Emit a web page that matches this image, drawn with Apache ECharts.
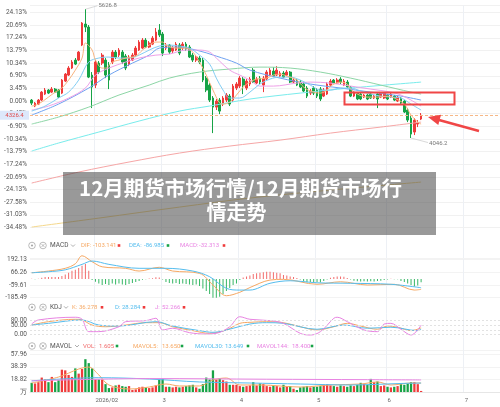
<!DOCTYPE html>
<html>
<head>
<meta charset="utf-8">
<script src="https://cdn.jsdelivr.net/npm/echarts@6/dist/echarts.min.js"></script>
<style>
html, body { margin: 0; padding: 0; background: #fff; }
#main { width: 500px; height: 407px; }
</style>
</head>
<body>
<div id="main"></div>
<script>
// 基准价 (0.00%)
var basePrice = 4500;
var totalBars = 140;
var monthLabels = { 19: '2026/02', 39: '3', 62: '4', 85: '5', 106: '6', 129: '7' };

// 日K [open, close, low, high]
var candles = [
	[4512,4475,4451,4525],[4439,4475,4426,4488],[4463,4512,4451,4525],[4512,4610,4500,4623],[4586,4635,4574,4660],
	[4635,4598,4586,4647],[4610,4647,4598,4672],[4647,4610,4598,4660],[4635,4549,4537,4647],[4598,4758,4586,4770],
	[4745,4831,4733,4844],[4819,4905,4807,4929],[4905,4979,4893,5003],[5003,4954,4942,5028],[5003,5101,4991,5114],
	[5187,5457,5175,5469],[5445,5408,5347,5626.8],[5408,4794,4782,5433],[4819,4672,4414,4856],[4696,4979,4660,5003],
	[4966,4856,4831,4991],[4966,5064,4942,5089],[5003,4819,4782,5028],[4942,4758,4647,4979],[4979,5101,4954,5126],
	[5101,5040,5015,5126],[5064,5126,5040,5150],[5101,4979,4954,5126],[5052,4905,4880,5077],[4954,5040,4929,5064],
	[5003,5064,4991,5089],[5064,5150,5040,5175],[5126,5224,5114,5248],[5150,5248,5138,5273],[5248,5163,5150,5273],
	[5163,5212,5150,5236],[5199,5273,5187,5298],[5248,5347,5236,5396],[5371,5310,5285,5445],[5322,5089,5052,5347],
	[5150,5187,5126,5212],[5187,5101,5077,5199],[5114,5150,5089,5175],[5126,5199,5114,5224],[5187,5089,5064,5212],
	[5150,5199,5126,5224],[5199,5138,5114,5224],[5163,5040,5028,5187],[5064,5003,4979,5089],[5003,5040,4979,5064],
	[5028,4979,4954,5052],[5003,4758,4733,5028],[4782,4635,4610,4807],[4696,4512,4488,4721],[4537,4426,4107,4561],
	[4426,4500,4390,4525],[4512,4377,4340,4537],[4463,4537,4439,4561],[4512,4574,4488,4598],[4561,4463,4439,4586],
	[4512,4684,4488,4709],[4660,4709,4635,4733],[4684,4782,4660,4807],[4770,4696,4586,4794],[4660,4745,4635,4770],
	[4709,4770,4684,4794],[4880,4733,4721,4905],[4721,4770,4709,4794],[4782,4733,4709,4807],[4696,4782,4610,4807],
	[4770,4856,4758,4880],[4819,4880,4807,4905],[4868,4807,4794,4917],[4819,4880,4807,4929],[4807,4844,4794,4868],
	[4844,4794,4782,4868],[4819,4856,4807,4880],[4856,4733,4721,4868],[4733,4758,4721,4782],[4758,4696,4684,4770],
	[4733,4672,4660,4758],[4709,4623,4610,4733],[4660,4561,4537,4684],[4598,4623,4574,4647],[4660,4598,4574,4684],
	[4635,4561,4537,4660],[4647,4525,4500,4672],[4561,4635,4549,4660],[4586,4709,4574,4733],[4696,4745,4672,4770],
	[4758,4721,4709,4770],[4721,4758,4709,4782],[4770,4733,4709,4794],[4696,4745,4684,4770],[4733,4672,4660,4758],
	[4672,4561,4549,4684],[4561,4610,4549,4623],[4598,4525,4512,4610],[4586,4525,4512,4598],[4549,4574,4537,4586],
	[4574,4525,4512,4586],[4586,4537,4525,4598],[4537,4561,4525,4574],[4586,4525,4414,4598],[4549,4598,4537,4610],
	[4537,4598,4525,4610],[4574,4525,4512,4586],[4549,4586,4537,4598],[4561,4512,4500,4574],[4500,4549,4488,4561],
	[4537,4475,4463,4549],[4500,4365,4353,4512],[4390,4267,4242,4414],[4291,4095,4046.2,4316],[4120,4267,4083,4291],
	[4218,4230,4181,4267],[4279,4326.4,4267,4353]
];

// 成交量 (万)
var volumes = [
	14,13,15,22,19,15,23,15,18,34, 33,26,23,36,28,35,50,44,36,19,
	19,19,12,6,7,10,11,9,8,9, 3,4,7,8,7,6,7,10,19,20,
	8,8,7,8,7,8,9,10,11,7, 5,12,22,19,33,19,21,18,16,11,
	11,11,9,8,9,10,15,10,13,12, 9,8,10,9,7,11,8,9,5,3,
	7,8,9,7,8,8,9,11,12,10, 9,8,10,9,8,10,9,11,14,12,
	11,20,15,16,9,10,8,7,8,9, 12,11,13,15,15,12,1.605
];

// MACD 柱
var macdHist = [
	3,-3,3,12,18,20,20,18,20,30, 45,60,80,90,107,130,147,80,-10,-27,
	-45,-60,-50,-60,-45,-55,-45,-55,-60,-50, -40,-30,-20,-8,-4,4,6,17,15,-5,
	-30,-40,-45,-40,-50,-45,-50,-55,-60,-55, -70,-95,-120,-150,-185,-190,-175,-150,-120,-90,
	-60,-45,-10,15,25,35,50,55,60,65, 70,70,65,60,55,40,35,25,20,10,
	-5,-25,-33,-30,-33,-30,-33,-20,-5,12, 20,25,25,22,10,-5,-18,-22,-25,-22,
	-25,-22,-25,-20,-18,-10,-5,3,-3,-4, -20,-30,-45,-60,-75,-65,-32.313
];

// 均线 [index, price]
var ma5 = [[0,4439],[2,4463],[5,4549],[7,4610],[9,4660],[11,4758],[13,4880],[15,5028],[16,5212],[18,5126],[19,5003],
	[21,4905],[22,4905],[24,4979],[26,5003],[28,5028],[31,5052],[33,5126],[35,5187],[37,5224],[39,5224],[40,5187],
	[43,5150],[46,5150],[48,5101],[50,4979],[52,4819],[54,4635],[56,4475],[57,4463],[59,4488],[61,4574],[63,4672],
	[65,4733],[67,4770],[70,4782],[72,4819],[74,4831],[76,4807],[79,4758],[81,4672],[83,4623],[86,4598],[88,4635],
	[89,4684],[92,4733],[94,4709],[95,4647],[97,4586],[100,4549],[103,4549],[106,4561],[108,4537],[111,4463],
	[113,4328],[115,4242],[116,4218]];
var ma10 = [[0,4377],[4,4439],[8,4537],[11,4610],[14,4758],[17,4979],[20,5028],[23,5040],[26,5028],[29,5028],
	[32,5064],[35,5126],[38,5175],[41,5187],[44,5175],[47,5150],[50,5064],[53,4954],[55,4782],[57,4635],[59,4537],
	[62,4537],[65,4610],[68,4709],[71,4770],[74,4794],[77,4794],[80,4758],[83,4696],[86,4635],[89,4635],[92,4660],
	[95,4660],[98,4623],[101,4586],[104,4561],[107,4549],[110,4537],[113,4463],[116,4390]];
var ma20 = [[0,4390],[5,4439],[11,4537],[16,4660],[19,4819],[23,4905],[28,4979],[32,5028],[37,5064],[41,5077],
	[46,5126],[50,5126],[53,5101],[55,5028],[59,4880],[62,4819],[65,4758],[68,4684],[72,4684],[79,4721],[83,4733],
	[89,4721],[95,4684],[101,4647],[107,4610],[110,4574],[113,4512],[116,4439]];
var ma30 = [[0,4328],[8,4463],[17,4660],[23,4819],[30,4966],[35,5064],[38,5150],[43,5163],[49,5126],[55,5052],
	[61,4966],[65,4880],[74,4782],[83,4709],[92,4660],[101,4610],[110,4561],[116,4512]];
var ma60 = [[0,4218],[8,4304],[17,4426],[26,4574],[35,4696],[41,4782],[50,4856],[59,4893],[68,4917],[77,4905],
	[86,4856],[95,4782],[104,4696],[113,4610],[116,4586]];
var ma120 = [[0,3887],[8,3985],[20,4120],[32,4255],[44,4377],[53,4439],[65,4525],[80,4598],[95,4660],[116,4733]];
var ma250 = [[0,3494],[14,3629],[29,3752],[44,3862],[59,3948],[74,4021],[89,4107],[104,4181],[116,4242]];
var ma500 = [[0,2954],[20,3064],[44,3199],[65,3310],[89,3408],[116,3506]];

// MACD 线
var difLine = [[0,61],[5,78],[10,105],[13,150],[15,229],[18,170],[21,120],[28,105],[32,78],[38,115],[42,78],
	[50,55],[54,-60],[58,-166],[62,-132],[65,-85],[71,-11],[75,-4],[85,-53],[92,-28],[100,-60],[108,-53],[114,-110],[116,-103.141]];
var deaLine = [[0,61],[5,71],[10,90],[15,144],[18,177],[23,144],[32,105],[40,105],[48,78],[53,22],[58,-93],
	[62,-110],[65,-110],[71,-43],[77,-18],[85,-38],[95,-43],[107,-53],[116,-86.985]];

// KDJ
var kLine = [[0,53],[5,73],[13,87],[15,83],[18,53],[22,43],[28,53],[34,67],[38,67],[42,43],[48,20],[53,4],[58,24],
	[62,63],[65,69],[70,73],[75,67],[80,43],[85,24],[90,43],[94,63],[98,47],[103,28],[106,47],[109,40],[113,20],[116,36.278]];
var dLine = [[0,53],[5,63],[15,83],[20,53],[26,47],[37,73],[42,47],[50,20],[54,10],[60,34],[65,59],[70,67],[75,63],
	[85,28],[93,53],[100,34],[107,40],[115,20],[116,28.284]];
var jLine = [[0,59],[2,83],[13,99],[15,87],[17,14],[20,14],[26,43],[28,73],[34,79],[37,93],[39,24],[42,34],[47,8],
	[52,0],[55,4],[59,43],[62,102],[65,87],[71,79],[75,63],[80,4],[83,-6],[86,14],[90,93],[91,99],[94,73],[99,24],
	[103,14],[105,59],[107,63],[110,28],[113,-6],[116,52.266]];

// 均量
var mavol5 = [[0,13.7],[8,22.8],[14,35],[17,38],[20,26],[23,10.7],[29,4.6],[35,7.6],[40,12.2],[44,9.2],[50,9.2],
	[54,18.3],[58,21.3],[62,10.7],[68,10.7],[80,7.6],[89,10.7],[98,12.2],[103,15.3],[107,10.7],[113,13.7],[116,13.65]];
var mavol30 = [[0,17],[20,21.8],[35,19.8],[50,15.3],[65,13.7],[80,12.2],[95,10.7],[110,13],[116,13.649]];
var mavol144 = [[0,17],[35,20.5],[70,19.5],[100,18.8],[116,18.4]];

var upColor = '#ef3b3b', downColor = '#17a346';
var cOrange = '#f6a863', cBlue = '#55bdee', cPink = '#e884e2', cVol = '#f06a6a';

var toPct = function (p) {
	return (p / basePrice - 1) * 100;
}

var cats = [];
for (var i = 0; i < totalBars; i++) {
	cats.push(String(i));
}

var candleData = candles.map(function (c) {
	return [toPct(c[0]), toPct(c[1]), toPct(c[2]), toPct(c[3])];
});
var volData = volumes.map(function (v, i) {
	var c = candles[i];
	return { value: v, itemStyle: { color: c[1] >= c[0] ? upColor : downColor } };
});
var histData = macdHist.map(function (v) {
	return { value: v, itemStyle: { color: v >= 0 ? '#f26b6b' : '#36b764' } };
});
var pctLine = function (arr) {
	return arr.map(function (d) { return [d[0], toPct(d[1])]; });
}

var step = 3.44755;
var gridCfg = [
	{ left: 30, right: 0, top: 5, height: 222.5 },
	{ left: 30, right: 0, top: 258.7, height: 39 },
	{ left: 30, right: 0, top: 313.7, height: 23.7 },
	{ left: 30, right: 0, top: 350, height: 42.5 }
];

var monthTick = function (idx) {
	return monthLabels[idx] !== undefined;
}

var xAxes = gridCfg.map(function (g, k) {
	return {
		type: 'category',
		gridIndex: k,
		data: cats,
		boundaryGap: true,
		axisLine: { show: k === 3, lineStyle: { color: '#e6e6e6' } },
		axisTick: { show: false },
		axisLabel: {
			show: k === 3,
			interval: monthTick,
			formatter: function (v, idx) { return monthLabels[idx] || ''; },
			align: 'left',
			fontSize: 6,
			color: '#666',
			margin: 5
		},
		splitLine: { show: true, interval: monthTick, lineStyle: { color: '#edf0f5', width: 1 } }
	};
});

var labelStyle = { fontSize: 6.5, color: '#555', margin: 3, hideOverlap: false };

var yAxes = [
	{
		gridIndex: 0, type: 'value', min: -10 * step, max: 26.2, interval: step, scale: true,
		axisLine: { show: false }, axisTick: { show: false },
		axisLabel: Object.assign({}, labelStyle, {
			showMaxLabel: false,
			formatter: function (v) {
				if (Math.abs(v) < 1e-6) return '0.00%';
				return v.toFixed(2) + '%';
			}
		}),
		splitLine: { lineStyle: { color: '#f1f1f1' } }
	},
	{
		gridIndex: 1, type: 'value', min: -185.4867, max: 200, interval: 125.8733,
		axisLine: { show: false }, axisTick: { show: false },
		axisLabel: Object.assign({}, labelStyle, {
			showMaxLabel: false,
			formatter: function (v) { return v.toFixed(2); }
		}),
		splitLine: { lineStyle: { color: '#f3f3f3' } }
	},
	{
		gridIndex: 2, type: 'value', min: -20, max: 120, interval: 10,
		axisLine: { show: false }, axisTick: { show: false },
		axisLabel: Object.assign({}, labelStyle, {
			formatter: function (v) {
				var r = Math.round(v);
				return (r === 0 || r === 50 || r === 80) ? r.toFixed(2) : '';
			}
		}),
		splitLine: { show: false }
	},
	{
		gridIndex: 3, type: 'value', min: -0.75, max: 64, interval: 19.57,
		axisLine: { show: false }, axisTick: { show: false },
		axisLabel: Object.assign({}, labelStyle, {
			showMaxLabel: false,
			formatter: function (v) {
				if (Math.abs(v + 0.75) < 1e-6) return '万';
				return v.toFixed(2);
			}
		}),
		splitLine: { lineStyle: { color: '#f3f3f3' } }
	}
];

var lineSeries = function (name, data, color, xi, extra) {
	var s = {
		name: name, type: 'line', xAxisIndex: xi, yAxisIndex: xi, data: data,
		smooth: 0.35, showSymbol: false, symbol: 'none', clip: false,
		lineStyle: { color: color, width: 1 }, silent: true
	};
	return Object.assign(s, extra || {});
}

var series = [
	{
		name: 'K', type: 'candlestick', xAxisIndex: 0, yAxisIndex: 0, data: candleData,
		barWidth: 2.2,
		itemStyle: { color: upColor, color0: downColor, borderColor: upColor, borderColor0: downColor, borderWidth: 1 },
		markLine: {
			silent: true, symbol: 'none', label: { show: false },
			lineStyle: { color: '#f7b887', type: [3, 2], width: 1 },
			data: [{ yAxis: toPct(4326.4) }]
		}
	},
	lineSeries('MA500', pctLine(ma500), '#f5d88c', 0),
	lineSeries('MA250', pctLine(ma250), '#f6a6a6', 0),
	lineSeries('MA120', pctLine(ma120), '#79ecec', 0),
	lineSeries('MA60', pctLine(ma60), '#8dd6a6', 0),
	lineSeries('MA30', pctLine(ma30), '#6fa2f1', 0),
	lineSeries('MA20', pctLine(ma20), '#eea0e8', 0),
	lineSeries('MA10', pctLine(ma10), '#82cdf3', 0),
	lineSeries('MA5', pctLine(ma5), '#f8b47e', 0),

	{ name: 'MACD', type: 'bar', xAxisIndex: 1, yAxisIndex: 1, data: histData, barWidth: 1, silent: true },
	lineSeries('DIF', difLine, cOrange, 1),
	lineSeries('DEA', deaLine, cBlue, 1),

	lineSeries('K', kLine, cOrange, 2, {
		markLine: {
			silent: true, symbol: 'none', label: { show: false },
			lineStyle: { color: '#e2e2e2', type: [2, 2], width: 1 },
			data: [{ yAxis: 80 }, { yAxis: 50 }, { yAxis: 20 }, { yAxis: 0 }]
		}
	}),
	lineSeries('D', dLine, cBlue, 2),
	lineSeries('J', jLine, cPink, 2),

	{ name: 'VOL', type: 'bar', xAxisIndex: 3, yAxisIndex: 3, data: volData, barWidth: '68%', silent: true },
	lineSeries('MAVOL5', mavol5, cOrange, 3),
	lineSeries('MAVOL30', mavol30, cBlue, 3),
	lineSeries('MAVOL144', mavol144, cPink, 3)
];

var chart = echarts.init(document.getElementById('main'));
chart.setOption({
	animation: false,
	backgroundColor: '#fff',
	textStyle: { fontFamily: 'Roboto, "Noto Sans", sans-serif' },
	grid: gridCfg,
	xAxis: xAxes,
	yAxis: yAxes,
	series: series
});

// ====== 图上文字 ======
var g = [];
var font = 'Roboto, "Noto Sans", sans-serif';

var txt = function (x, y, text, color, size, align) {
	g.push({
		type: 'text', x: x, y: y, silent: true, z: 20,
		style: { text: text, fill: color, fontSize: size || 6, fontFamily: font, align: align || 'left', verticalAlign: 'middle' }
	});
}
var square = function (x, y, color) {
	g.push({ type: 'rect', silent: true, z: 20, shape: { x: x - 1.3, y: y - 1.3, width: 2.6, height: 2.6 }, style: { fill: color } });
}

var panelHead = function (y, name, chevX, items) {
	// 眼睛 / 关闭 图标
	g.push({ type: 'circle', silent: true, shape: { cx: 32, cy: y, r: 3.3 }, style: { fill: 'none', stroke: '#a9a9a9', lineWidth: 0.8 } });
	g.push({ type: 'circle', silent: true, shape: { cx: 32, cy: y, r: 1.1 }, style: { fill: '#a9a9a9' } });
	g.push({ type: 'circle', silent: true, shape: { cx: 43, cy: y, r: 3.3 }, style: { fill: 'none', stroke: '#a9a9a9', lineWidth: 0.8 } });
	g.push({ type: 'polyline', silent: true, shape: { points: [[41.6, y - 1.4], [44.4, y + 1.4]] }, style: { stroke: '#a9a9a9', lineWidth: 0.8 } });
	g.push({ type: 'polyline', silent: true, shape: { points: [[44.4, y - 1.4], [41.6, y + 1.4]] }, style: { stroke: '#a9a9a9', lineWidth: 0.8 } });
	txt(50, y, name, '#555', 6.5);
	g.push({ type: 'polyline', silent: true, shape: { points: [[chevX - 2, y - 1], [chevX, y + 1], [chevX + 2, y - 1]] }, style: { stroke: '#999', lineWidth: 0.8, fill: 'none' } });
	items.forEach(function (it) {
		txt(it[1], y, it[0], it[6], 6);
		txt(it[3], y, it[2], it[6], 6);
		square(it[5], y, it[4]);
	});
}

panelHead(245.5, 'MACD', 73, [
	['DIF:', 81, '-103.141', 93, upColor, 119, cOrange],
	['DEA:', 129, '-86.985', 144, downColor, 168, cBlue],
	['MACD:', 180, '-32.313', 199, upColor, 224, cPink]
]);
panelHead(307.3, 'KDJ', 66, [
	['K:', 72, '36.278', 79, upColor, 102, cOrange],
	['D:', 115, '28.284', 122, upColor, 144, cBlue],
	['J:', 155, '52.266', 162, upColor, 184, cPink]
]);
panelHead(346, 'MAVOL', 77, [
	['VOL:', 83, '1.605', 99, downColor, 117, cVol],
	['MAVOL5:', 133, '13.650', 162, downColor, 182, cOrange],
	['MAVOL30:', 195, '13.649', 225, downColor, 248, cBlue],
	['MAVOL144:', 257, '18.400', 292, downColor, 312, cPink]
]);

// 月份竖线穿过各指标标题栏
var bandW = chart.convertToPixel({ xAxisIndex: 0 }, 1) - chart.convertToPixel({ xAxisIndex: 0 }, 0);
Object.keys(monthLabels).forEach(function (k) {
	var x = Math.round(chart.convertToPixel({ xAxisIndex: 0 }, +k) - bandW / 2) + 0.5;
	[[227.5, 258.7], [297.7, 313.7], [337.4, 350]].forEach(function (seg) {
		g.push({ type: 'line', silent: true, z: -1, shape: { x1: x, y1: seg[0], x2: x, y2: seg[1] }, style: { stroke: '#edf0f5', lineWidth: 1 } });
	});
});

// 最高 / 最低 标注
var hi = chart.convertToPixel({ xAxisIndex: 0, yAxisIndex: 0 }, [16, toPct(5626.8)]);
g.push({ type: 'line', silent: true, shape: { x1: hi[0], y1: hi[1], x2: hi[0] + 12, y2: hi[1] - 3.5 }, style: { stroke: '#cfcfcf', lineWidth: 0.8 } });
txt(hi[0] + 13, hi[1] - 3.5, '5626.8', '#777', 6);
var lo = chart.convertToPixel({ xAxisIndex: 0, yAxisIndex: 0 }, [113, toPct(4046.2)]);
g.push({ type: 'line', silent: true, shape: { x1: lo[0], y1: lo[1], x2: lo[0] + 17, y2: lo[1] + 4.5 }, style: { stroke: '#cfcfcf', lineWidth: 0.8 } });
txt(lo[0] + 18, lo[1] + 5, '4046.2', '#777', 6);

// 最新价
var cur = chart.convertToPixel({ xAxisIndex: 0, yAxisIndex: 0 }, [0, toPct(4326.4)]);
g.push({ type: 'rect', silent: true, z: 19, shape: { x: 0, y: cur[1] - 4.5, width: 29, height: 9 }, style: { fill: '#dde8fb' } });
txt(14.5, cur[1], '4326.4', '#e04a4a', 6, 'center');

// 红框 + 箭头
g.push({ type: 'rect', silent: true, z: 30, shape: { x: 344.5, y: 92.5, width: 110, height: 12 }, style: { fill: 'none', stroke: '#f04646', lineWidth: 2 } });
g.push({ type: 'line', silent: true, z: 30, shape: { x1: 479, y1: 131, x2: 439, y2: 120 }, style: { stroke: '#f04646', lineWidth: 2.5 } });
g.push({ type: 'polygon', silent: true, z: 30, shape: { points: [[428, 117], [441, 114.8], [438.3, 125]] }, style: { fill: '#f04646' } });

// 标题遮罩
g.push({ type: 'rect', silent: true, z: 100, shape: { x: 63, y: 172, width: 373, height: 63 }, style: { fill: 'rgba(70,70,70,0.55)' } });
g.push({ type: 'text', silent: true, z: 101, x: 240.5, y: 188, style: { text: '12月期货市场行情/12月期货市场行', fill: '#fff', fontSize: 20.5, fontWeight: 'bold', fontFamily: '"Noto Sans CJK SC"', align: 'center', verticalAlign: 'middle' } });
g.push({ type: 'text', silent: true, z: 101, x: 236.5, y: 212, style: { text: '情走势', fill: '#fff', fontSize: 20, fontWeight: 'bold', fontFamily: '"Noto Sans CJK SC"', align: 'center', verticalAlign: 'middle' } });

chart.setOption({ graphic: g });
</script>
</body>
</html>
